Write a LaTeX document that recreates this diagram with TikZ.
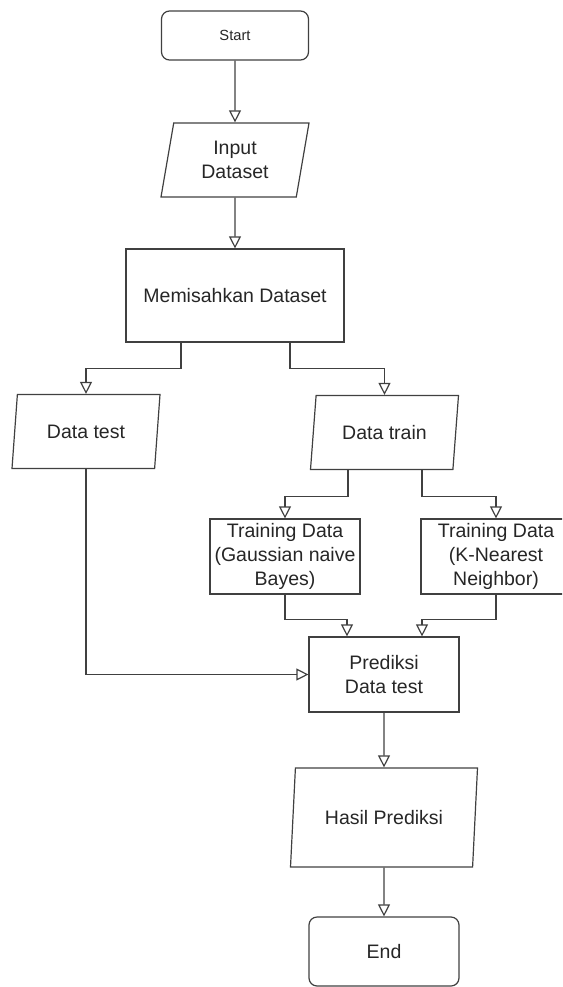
\documentclass[tikz,border=0pt]{standalone}
\usepackage{fontspec}
\setmainfont{Liberation Sans}
\usetikzlibrary{shapes.geometric,arrows.meta}

\tikzset{
  box/.style={draw=black!75, line width=1.2pt, text=black!85, minimum width=150pt,
    minimum height=75pt, align=center, inner sep=2pt,
    font=\fontsize{19.5pt}{24pt}\selectfont},
  term/.style={box, rounded corners=8pt},
  io/.style={box, trapezium, trapezium left angle=73, trapezium right angle=107,
    trapezium stretches body, minimum width=148pt, minimum height=74pt},
  arr/.style={draw=black!75, line width=1.2pt, -{Triangle[open,length=12pt,width=12pt]}},
}

\begin{document}
\begin{tikzpicture}[x=1pt,y=-1pt]
            \useasboundingbox (0,0) rectangle (562,987);
            \clip (0,0) rectangle (562,987);

            \node[term, minimum width=147pt, minimum height=49pt, font=\fontsize{14.7pt}{18pt}\selectfont] (start) at (235,35.5) {Start};
            \node[io] (input) at (235,160) {Input\\Dataset};
            \node[box, minimum width=218pt, minimum height=93pt] (split) at (235,295.5) {Memisahkan Dataset};
            \node[io] (dtest) at (86,431.5) {Data test};
            \node[io] (dtrain) at (384.5,432.5) {Data train};
            \node[box] (gnb) at (285,556.5) {Training Data\\(Gaussian naive\\Bayes)};
            \node[box] (knn) at (496,556.5) {Training Data\\(K-Nearest\\Neighbor)};
            \node[box] (pred) at (384,674.5) {Prediksi\\Data test};
            \node[io, trapezium left angle=75, trapezium right angle=105, minimum width=187pt, minimum height=99pt] (result) at (384,817.5) {Hasil Prediksi};
            \node[term, minimum height=69pt] (end) at (384,951.5) {End};

            \foreach \a/\b in {start/input,input/split,pred/result,result/end} {
            \draw[arr] (\a.south) -- (\b.north);}

            \draw[arr] ([xshift=-54pt]split.south) -- ++(0,26) -| (dtest.north);
            \draw[arr] ([xshift=55pt]split.south) -- ++(0,26) -| (dtrain.north);
            \draw[arr] ([xshift=-36.5pt]dtrain.south) -- ++(0,26) -| (gnb.north);
            \draw[arr] ([xshift=37.5pt]dtrain.south) -- ++(0,26) -| (knn.north);
            \draw[arr] (gnb.south) -- ++(0,25) -| ([xshift=-37pt]pred.north);
            \draw[arr] (knn.south) -- ++(0,25) -| ([xshift=38pt]pred.north);
            \draw[arr] (dtest.south) |- (pred.west);
        \end{tikzpicture}
\end{document}
